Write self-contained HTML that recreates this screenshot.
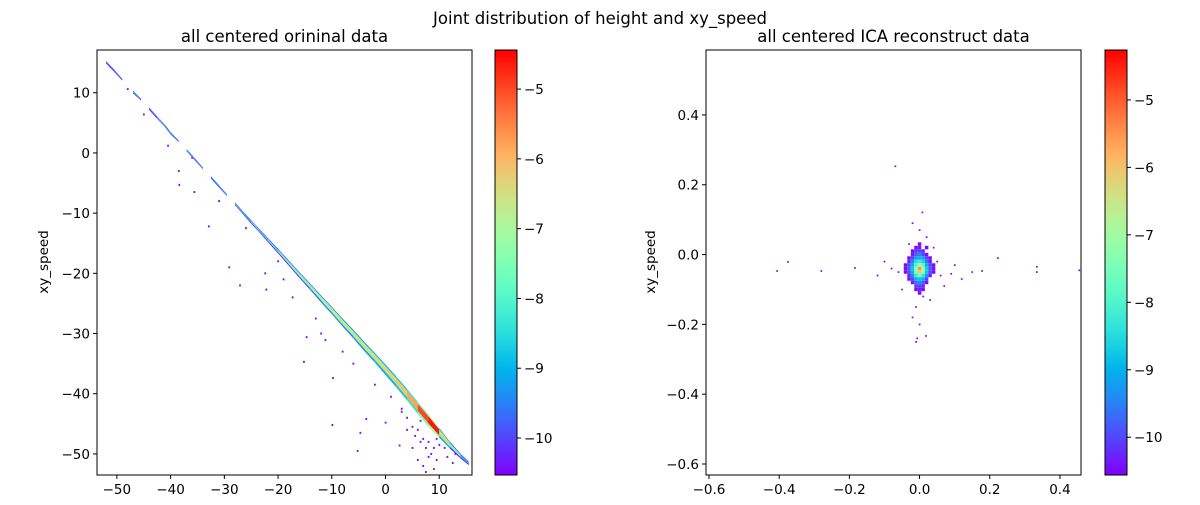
<!DOCTYPE html>
<html><head><meta charset="utf-8"><style>
body{margin:0;background:#fff;}
svg text{font-family:"DejaVu Sans","Liberation Sans",sans-serif;fill:#000;}
</style></head><body>
<svg id="fig" width="1200" height="500" viewBox="0 0 1200 500" xmlns="http://www.w3.org/2000/svg">
<text x="600" y="24" font-size="16.5" text-anchor="middle">Joint distribution of height and xy_speed</text>
<g id="left"></g>
<g id="right"></g>
</svg>
<script>
// ---------- data: left panel (original data) ----------
const ridgeX = [-52,-50.5,-49,-47,-45.5,-44,-42.5,-41,-40,-38.5,-37,-35.5,-34,-32.5,-31,-29.5,-28,-26.5,-25,-23.5,-22,-20,-18,-16,-14,-12,-10,-8,-6,-4,-2,0,2,4,6,8,10,12,14,15.5];
const ridgeY = [15.1,13.7,12.2,10.2,8.9,7.4,5.9,4.5,3.3,2.0,0.5,-1.0,-2.5,-4.0,-5.5,-7.0,-8.4,-9.9,-11.4,-12.8,-14.3,-16.2,-18.2,-20.2,-22.1,-24.1,-26.0,-28.0,-29.9,-31.9,-33.8,-35.8,-37.8,-39.9,-42.1,-44.2,-46.3,-48.4,-50.3,-51.5];
const ridgeVal = [-9.5,-9.2,null,-8.8,null,-9.6,-8.5,-9.0,-8.8,null,-8.6,-8.8,null,-9.0,-8.8,null,-8.6,-8.8,-8.2,-8.5,-8.3,-7.8,-7.6,-7.4,-7.2,-7.0,-6.8,-6.9,-6.7,-6.6,-6.5,-6.4,-6.2,-5.8,-5.0,-4.6,-6.4,-7.8,-8.8,-9.5];
const ridgeSpread = [0.2,0.2,0.15,0.25,0.15,0.2,0.2,0.2,0.2,0.15,0.2,0.2,0.15,0.2,0.2,0.15,0.25,0.25,0.3,0.3,0.35,0.4,0.45,0.5,0.55,0.6,0.65,0.7,0.75,0.8,0.85,0.9,0.95,1.0,1.05,1.05,0.85,0.6,0.4,0.3];
const outX = [-27.1,-29.1,-32.9,-38.4,-38.5,-35.6,-15.2,-9.9,-5.2,-9.8,-17.3,-22.2,-22.4,-11.2,-14.7,-4.7,0,-3.6,2.6,-40.5,-48,-45,-36,-31,-26,-20,-19,-13,-12,-8,-6,-2,1,3,4,5,5.5,6,6.5,7,7.5,8,8.5,9,9.5,10,10.5,11,6,7,8,9,4,5,7.5,9.5,11.5,12.5,13,3,6.5,8.5];
const outY = [-22.0,-19.0,-12.2,-5.3,-3.0,-6.5,-34.7,-45.2,-49.5,-37.4,-24.0,-22.7,-20.0,-31.1,-30.6,-46.5,-44.8,-44.2,-48.6,1.2,10.6,6.4,-0.8,-8.0,-12.5,-18,-21,-27.5,-30,-33,-35,-38.5,-40.5,-42.5,-44,-45.5,-47,-46,-48,-47.5,-49,-48,-50,-49,-47.5,-48.5,-47,-49,-51,-52,-50.5,-52.5,-46,-49,-53,-51,-50.5,-51.5,-50,-43,-44.5,-45.5];
// ---------- data: right panel (ICA reconstruct) ----------
const binX = [-0.04,-0.03,-0.02,-0.01,0.0,0.01,0.02,0.03,0.04];
const binY = [0.03,0.02,0.01,0.0,-0.01,-0.02,-0.03,-0.04,-0.05,-0.06,-0.07,-0.08,-0.09,-0.10,-0.11];
const N = null;
const binVals = [
 [N,N,N,N,-10.5,N,N,N,N],
 [N,N,N,-10.5,-10.3,N,-10.5,N,N],
 [N,N,-10.5,-10.2,-10.0,-10.3,N,N,N],
 [N,N,-10.4,-9.8,-9.5,-10.0,-10.4,N,N],
 [N,-10.5,-10.0,-9.2,-9.0,-9.3,-10.0,-10.5,N],
 [N,-10.3,-9.5,-8.5,-8.2,-8.6,-9.6,-10.4,N],
 [-10.5,-10.0,-9.0,-8.0,-7.0,-7.8,-9.0,-10.0,-10.5],
 [-10.4,-9.8,-8.8,-7.0,-5.5,-6.8,-8.7,-9.8,-10.4],
 [-10.5,-10.0,-9.0,-7.4,-6.2,-7.2,-8.8,-10.0,-10.5],
 [N,-10.3,-9.4,-8.2,-7.6,-8.3,-9.3,-10.3,N],
 [N,-10.5,-10.0,-9.0,-8.8,-9.0,-10.0,N,N],
 [N,N,-10.4,-9.6,-9.4,-9.8,-10.4,N,N],
 [N,N,N,-10.2,-10.0,-10.3,N,N,N],
 [N,N,N,-10.5,-10.3,-10.5,N,N,N],
 [N,N,N,N,-10.5,N,N,N,N]];
const icaOutX = [-0.069,0.008,-0.406,-0.375,-0.28,-0.184,0.178,0.223,0.334,0.334,0.455,-0.01,-0.007,0.018,-0.02,0.0,0.02,-0.03,0.05,0.06,-0.06,-0.08,0.09,0.07,-0.05,0.03,-0.01,0.04,0.1,-0.12,0.12,0.0,-0.02,0.01,0.15,-0.1];
const icaOutY = [0.253,0.121,-0.047,-0.021,-0.047,-0.038,-0.047,-0.01,-0.035,-0.05,-0.045,-0.25,-0.24,-0.233,-0.18,0.07,0.05,0.03,-0.02,-0.06,-0.05,-0.04,-0.055,-0.09,-0.1,-0.13,-0.15,0.02,-0.03,-0.06,-0.07,-0.2,0.09,-0.12,-0.05,-0.02];
const leftXTicks = [-50,-40,-30,-20,-10,0,10];
const leftYTicks = [10,0,-10,-20,-30,-40,-50];
const rightXTicks = [-0.6,-0.4,-0.2,0.0,0.2,0.4];
const rightYTicks = [0.4,0.2,0.0,-0.2,-0.4,-0.6];
const cbTicks = [-5,-6,-7,-8,-9,-10];

const NS = "http://www.w3.org/2000/svg";
function mk(tag, attrs, parent){const e=document.createElementNS(NS,tag);for(const k in attrs)e.setAttribute(k,attrs[k]);parent.appendChild(e);return e;}
function rainbow(t){t=Math.max(0,Math.min(1,t));const r=Math.min(1,Math.abs(2*t-0.5)),g=Math.sin(Math.PI*t),b=Math.cos(Math.PI*t/2);return `rgb(${Math.round(r*255)},${Math.round(g*255)},${Math.round(b*255)})`;}
function fmt(v,d){const s=v.toFixed(d);return s.replace('-','\u2212');}

function axes(g, box, xr, yr, xt, yt, dec){
  const sx=v=>box.x+(v-xr[0])/(xr[1]-xr[0])*box.w;
  const sy=v=>box.y+box.h-(v-yr[0])/(yr[1]-yr[0])*box.h;
  return {sx,sy,draw(){
    const f=mk('rect',{x:box.x,y:box.y,width:box.w,height:box.h,fill:'none',stroke:'#000','stroke-width':1},g);
    
    xt.forEach(v=>{const X=sx(v);mk('line',{x1:X,x2:X,y1:box.y+box.h,y2:box.y+box.h+4,stroke:'#000'},g);
      const t=mk('text',{x:X,y:box.y+box.h+19,'font-size':13.5,'text-anchor':'middle'},g);t.textContent=fmt(v,dec);
      });
    yt.forEach(v=>{const Y=sy(v);mk('line',{x1:box.x-4,x2:box.x,y1:Y,y2:Y,stroke:'#000'},g);
      const t=mk('text',{x:box.x-7,y:Y+5,'font-size':13.5,'text-anchor':'end'},g);t.textContent=fmt(v,dec);
      });
  }};
}
function colorbar(g, box, vmin, vmax, id){
  const defs=mk('defs',{},g);const lg=mk('linearGradient',{id,x1:0,y1:1,x2:0,y2:0},defs);
  for(let i=0;i<=20;i++)mk('stop',{offset:i/20,'stop-color':rainbow(i/20)},lg);
  const r=mk('rect',{x:box.x,y:box.y,width:box.w,height:box.h,fill:`url(#${id})`,stroke:'#000'},g);
  
  cbTicks.forEach(v=>{const Y=box.y+box.h-(v-vmin)/(vmax-vmin)*box.h;
    mk('line',{x1:box.x+box.w,x2:box.x+box.w+4,y1:Y,y2:Y,stroke:'#000'},g);
    const t=mk('text',{x:box.x+box.w+7,y:Y+5,'font-size':13.5},g);t.textContent=fmt(v,0);
    });
}
function title(g,x,y,s,name){const t=mk('text',{x,y,'font-size':16.5,'text-anchor':'middle'},g);t.textContent=s;}
function ylab(g,x,y){const t=mk('text',{x,y,'font-size':13.5,'text-anchor':'middle',transform:`rotate(-90 ${x} ${y})`},g);t.textContent='xy_speed';}

// ---- left panel ----
const L=document.getElementById('left');
const lvmin=-10.53,lvmax=-4.44;const lc=v=>rainbow((v-lvmin)/(lvmax-lvmin));
const la=axes(L,{x:97,y:50,w:375,h:425},[-53.7,16.1],[-53.5,17.1],leftXTicks,leftYTicks,0);
const clipL=mk('clipPath',{id:'clipL'},L);mk('rect',{x:97,y:50,width:375,height:425},clipL);
const lg=mk('g',{'clip-path':'url(#clipL)'},L);
outX.forEach((x,i)=>{const r=mk('rect',{x:la.sx(x)-0.8,y:la.sy(outY[i])-1,width:1.8,height:2,fill:lc(-10.4)},lg);
  });
for(let pass=0;pass<2;pass++){
 for(let i=0;i<ridgeX.length-1;i++){
  const v=ridgeVal[i]; if(v===null) continue;
  const k=pass===0?1.2:0.7; const val=pass===0?Math.max(lvmin,v-2.6):v;
  const s0=ridgeSpread[i]*k,s1=ridgeSpread[i+1]*k;
  const x0=la.sx(ridgeX[i]),x1=la.sx(ridgeX[i+1]);
  const pts=[[x0,la.sy(ridgeY[i]+s0*0.6)],[x1,la.sy(ridgeY[i+1]+s1*0.6)],[x1,la.sy(ridgeY[i+1]-s1)],[x0,la.sy(ridgeY[i]-s0)]];
  const p=mk('polygon',{points:pts.map(q=>q.join(',')).join(' '),fill:lc(val)},lg);
  
 }
}
la.draw();
title(L,284.5,42,'all centered orininal data','left-title');ylab(L,48,262);
colorbar(L,{x:495,y:50,w:22,h:425},lvmin,lvmax,'cbL');

// ---- right panel ----
const R=document.getElementById('right');
const rvmin=-10.56,rvmax=-4.26;const rc=v=>rainbow((v-rvmin)/(rvmax-rvmin));
const ra=axes(R,{x:706,y:50,w:375,h:425},[-0.6085,0.46],[-0.6315,0.586],rightXTicks,rightYTicks,1);
const clipR=mk('clipPath',{id:'clipR'},R);mk('rect',{x:706,y:50,width:375,height:425},clipR);
const rg=mk('g',{'clip-path':'url(#clipR)'},R);
icaOutX.forEach((x,i)=>{const r=mk('rect',{x:ra.sx(x)-0.8,y:ra.sy(icaOutY[i])-0.8,width:1.7,height:1.7,fill:rc(-10.5)},rg);
  });
binVals.forEach((row,j)=>row.forEach((v,i)=>{ if(v===null) return;
  const x0=ra.sx(binX[i]-0.005),x1=ra.sx(binX[i]+0.005),y0=ra.sy(binY[j]+0.005),y1=ra.sy(binY[j]-0.005);
  const r=mk('rect',{x:x0,y:y0,width:x1-x0,height:y1-y0,fill:rc(v)},rg);
  }));
ra.draw();
title(R,893.5,42,'all centered ICA reconstruct data','right-title');ylab(R,655,262);
colorbar(R,{x:1105,y:50,w:22,h:425},rvmin,rvmax,'cbR');
</script>
</body></html>
